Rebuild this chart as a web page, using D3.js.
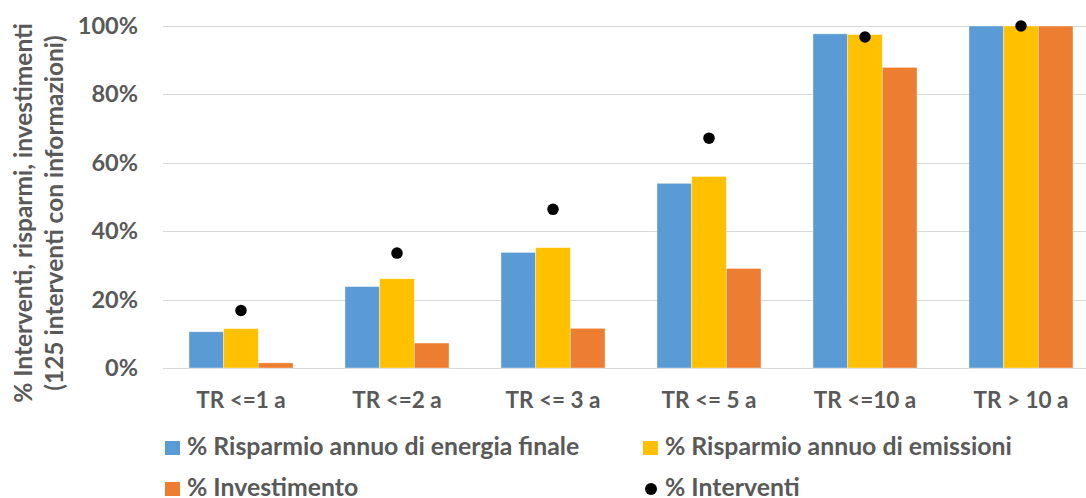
<!DOCTYPE html>
<html><head><meta charset="utf-8">
<script src="https://cdn.jsdelivr.net/npm/d3@7"></script>
<style>body{margin:0;background:#fff;overflow:hidden}svg{display:block}</style>
</head><body>
<script>
const categories = ["TR <=1 a","TR <=2 a","TR <= 3 a","TR <= 5 a","TR <=10 a","TR > 10 a"];
const energia = [10.6, 23.8, 33.8, 54.0, 97.7, 100];
const emissioni = [11.5, 26.1, 35.2, 56.0, 97.5, 100];
const investimento = [1.5, 7.3, 11.6, 29.1, 87.9, 100];
const interventi = [16.8, 33.6, 46.4, 67.2, 96.8, 100];
const yTicks = [0, 20, 40, 60, 80, 100];
const seriesNames = ["% Risparmio annuo di energia finale","% Risparmio annuo di emissioni","% Investimento","% Interventi"];
const colors = ["#5B9BD5","#FFC000","#ED7D31","#000000"];
const yTitle = ["% Interventi, risparmi, investimenti","(125 interventi con informazioni)"];

const W=1086,H=498;
const svg=d3.select("body").append("svg").attr("width",W).attr("height",H);
const font="Lato, 'Open Sans', sans-serif";
const txt="#595959";

const x=d3.scaleBand().domain(categories).range([163,1099]).paddingInner(0).paddingOuter(0);
const y=d3.scaleLinear().domain([0,100]).range([368,26]);
const barSeries=[energia,emissioni,investimento];
const gw=x.bandwidth()*(3/4.5);
const xs=d3.scaleBand().domain([0,1,2]).range([0,gw]);

// gridlines
svg.append("g").selectAll("line").data(yTicks).join("line")
 .attr("x1",163).attr("x2",W).attr("y1",d=>Math.round(y(d))+0.5).attr("y2",d=>Math.round(y(d))+0.5)
 .attr("stroke","#d9d9d9").attr("stroke-width",1);

// y axis labels
const yAxis=d3.axisLeft(y).tickValues(yTicks).tickFormat(d=>d+"%").tickSize(0).tickPadding(0);
const ga=svg.append("g").attr("transform","translate(138,0)").call(yAxis);
ga.select(".domain").remove();
ga.selectAll("text").attr("font-family",font).attr("font-weight","bold").attr("font-size",23.5).attr("fill",txt);

// bars
barSeries.forEach((s,i)=>{
  svg.append("g").selectAll("rect").data(s).join("rect")
   .attr("x",(d,j)=>x(categories[j])+(x.bandwidth()-gw)/2+xs(i))
   .attr("width",xs.bandwidth())
   .attr("y",d=>y(d)).attr("height",d=>y(0)-y(d))
   .attr("fill",colors[i]).attr("stroke","#fff").attr("stroke-opacity",0.5).attr("stroke-width",0.75);
});
// dots
svg.append("g").selectAll("circle").data(interventi).join("circle")
 .attr("cx",(d,j)=>x(categories[j])+x.bandwidth()/2).attr("cy",d=>y(d)).attr("r",5.75).attr("fill","#000");

// x axis labels
const xAxis=d3.axisBottom(x).tickSize(0).tickPadding(0);
const gx=svg.append("g").call(xAxis);
gx.select(".domain").remove();
gx.selectAll(".tick text").attr("y",408).attr("dy",null).attr("font-family",font).attr("font-weight","bold").attr("font-size",22.5).attr("fill",txt);

// y title
const titleX=[32,63];
yTitle.forEach((t,i)=>{
  svg.append("text").attr("transform",`translate(${titleX[i]},213) rotate(-90)`)
   .attr("text-anchor","middle").attr("font-family",font).attr("font-weight","bold").attr("font-size",24.5).attr("fill",txt).text(t);
});

// legend
const legPos=[[165,455],[643,455],[165,496],[643,496]];
seriesNames.forEach((n,i)=>{
  const [lx,ly]=legPos[i];
  const g=svg.append("g");
  if(i<3) g.append("rect").attr("x",lx).attr("y",ly-14).attr("width",15).attr("height",14).attr("fill",colors[i]);
  else g.append("circle").attr("cx",lx+8).attr("cy",ly-7).attr("r",6).attr("fill","#000");
  g.append("text").attr("x",lx+22).attr("y",ly).attr("font-family",font).attr("font-weight","bold").attr("font-size",24.8).attr("fill",txt).text(n);
});
</script>
</body></html>
